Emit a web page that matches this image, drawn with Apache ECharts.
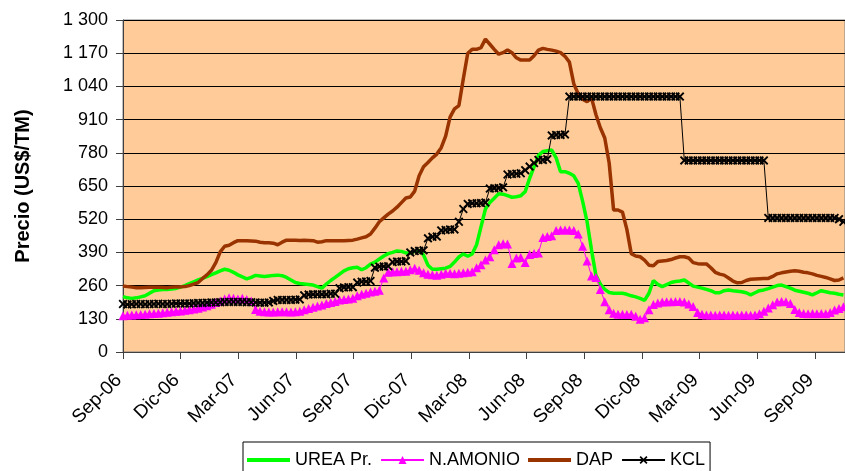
<!DOCTYPE html>
<html>
<head>
<meta charset="utf-8">
<script src="https://cdn.jsdelivr.net/npm/echarts@6/dist/echarts.min.js"></script>
<style>
  html, body { margin: 0; padding: 0; background: #ffffff; }
  #chart { width: 845px; height: 471px; }
</style>
</head>
<body>
<div id="chart"></div>
<script>
// Weekly fertilizer prices (US$/TM), first week of Sep 2006 onward
const seriesNames = ['UREA Pr.', 'N.AMONIO', 'DAP', 'KCL'];

const ureaPr = [
  217,212,210,212,216,220,230,240,243,245,
  245,247,249,254,260,268,275,282,288,295,
  303,310,318,324,320,312,302,294,286,292,
  300,298,296,298,300,301,299,292,282,272,
  268,266,264,262,256,250,266,280,292,305,
  318,326,330,332,322,330,344,352,364,376,
  385,390,396,394,388,388,394,398,380,340,
  324,324,326,328,335,352,372,384,375,384,
  420,490,560,585,602,620,618,612,606,608,
  612,628,680,725,770,785,788,791,760,706,
  706,700,690,660,590,510,400,300,266,245,
  233,230,230,230,226,220,216,210,202,230,
  280,265,256,264,272,276,278,282,270,258,
  254,250,245,240,232,232,240,243,240,238,
  236,232,224,232,240,243,248,254,260,262,
  256,250,242,238,234,230,224,232,240,236,
  232,230,226,223
];

const nAmonio = [
  142,144,145,146,147,148,150,151,152,154,
  156,158,160,161,163,165,168,171,176,181,
  187,194,200,208,212,210,208,210,206,200,
  166,160,158,157,157,158,158,158,157,158,
  160,165,170,175,180,184,190,194,198,204,
  206,208,210,220,226,230,235,238,242,290,
  312,314,314,316,316,322,328,320,310,304,
  302,301,304,308,308,306,308,310,312,314,
  330,342,360,373,400,420,424,423,347,368,
  370,350,382,386,388,448,452,455,476,478,
  478,478,476,462,414,356,298,292,245,197,
  165,152,148,148,147,148,140,128,134,165,
  186,192,196,197,197,198,198,196,188,178,
  155,148,145,145,144,145,145,144,145,144,
  145,145,144,145,150,160,172,185,196,198,
  197,190,166,155,151,150,151,150,151,150,
  155,164,170,177
];

const dap = [
  258,256,254,252,252,253,254,254,254,253,
  252,254,255,255,256,260,266,272,288,302,
  320,350,392,414,418,428,436,436,436,435,
  434,430,428,428,426,420,430,438,438,438,
  437,438,437,436,430,432,436,436,436,436,
  436,437,438,442,447,451,462,485,510,525,
  540,552,567,585,603,607,630,690,725,742,
  760,775,800,845,920,952,965,1070,1170,1185,
  1185,1192,1225,1205,1185,1166,1172,1183,1172,1152,
  1143,1143,1143,1160,1182,1189,1185,1182,1178,1172,
  1158,1135,1050,1010,990,980,995,930,878,838,
  740,556,556,548,480,385,376,373,360,340,
  338,354,356,358,362,368,373,373,368,350,
  346,345,345,330,312,305,301,290,278,271,
  272,280,285,286,287,288,288,296,306,310,
  313,316,318,316,312,310,306,300,296,292,
  286,280,282,290
];

const kcl = [
  188,186,187,188,188,187,188,188,189,188,
  188,189,190,190,190,190,191,192,192,193,
  194,194,195,196,196,196,196,196,195,195,
  194,193,193,194,200,204,204,204,204,205,
  206,222,225,226,226,226,226,228,228,250,
  253,254,254,272,275,276,278,330,334,335,
  336,352,354,354,356,390,395,396,398,445,
  451,452,476,478,480,480,510,560,580,582,
  582,583,585,640,641,642,645,695,697,698,
  700,712,726,740,752,752,755,848,850,850,
  852,1000,1000,1000,1000,1000,1000,1000,1000,1000,
  1000,1000,1000,1000,1000,1000,1000,1000,1000,1000,
  1000,1000,1000,1000,1000,1000,1000,750,750,750,
  750,750,750,750,750,750,750,750,750,750,
  750,750,750,750,750,750,525,525,525,525,
  525,525,525,525,525,525,525,525,525,525,
  525,525,520,510
];

// Quarterly labels on the date axis (Sep 2006 .. Sep 2009)
const tickLabels = [
  'Sep-06', 'Dic-06', 'Mar-07', 'Jun-07', 'Sep-07', 'Dic-07',
  'Mar-08', 'Jun-08', 'Sep-08', 'Dic-08', 'Mar-09', 'Jun-09', 'Sep-09'
];

// x is counted in days from 1 Sep 2006; a quarter averages 1096/12 days
const QUARTER = 1096 / 12;
const AXIS_END_DAY = 1143.5;
const weekDay = ureaPr.map((_, i) => i * 7);

function pairs(values) {
  return values.map((v, i) => [weekDay[i], v]);
}

const FONT = '"Liberation Sans", Arial, sans-serif';
const crossPath = 'path://M0,1.5L1.5,0L5,3.5L8.5,0L10,1.5L6.5,5L10,8.5L8.5,10L5,6.5L1.5,10L0,8.5L3.5,5Z';
const barIcon = 'path://M0,0L43,0L43,4L0,4Z';

const chart = echarts.init(document.getElementById('chart'), null, { renderer: 'canvas' });

chart.setOption({
  animation: false,
  backgroundColor: '#ffffff',
  textStyle: { fontFamily: FONT },
  grid: {
    left: 123, top: 20, right: 0, bottom: 119,
    show: true,
    backgroundColor: '#FFCC99',
    borderColor: '#808080',
    borderWidth: 1
  },
  legend: {
    left: 243, top: 442,
    padding: [9, 5, 22, 4],
    itemGap: 8,
    itemWidth: 43,
    itemHeight: 10,
    backgroundColor: '#ffffff',
    borderColor: '#000000',
    borderWidth: 1,
    borderRadius: 0,
    textStyle: { fontSize: 18, color: '#000000', fontFamily: FONT },
    data: [
      { name: seriesNames[0], icon: barIcon },
      { name: seriesNames[1] },
      { name: seriesNames[2], icon: barIcon },
      { name: seriesNames[3] }
    ]
  },
  xAxis: {
    type: 'value',
    min: 0,
    max: AXIS_END_DAY,
    interval: QUARTER,
    axisLine: { show: true, onZero: false, lineStyle: { color: '#404040', width: 1 } },
    axisTick: { show: true, length: 7, lineStyle: { color: '#404040' } },
    axisLabel: {
      rotate: 45,
      margin: 21,
      padding: [0, 6, 0, 0],
      fontSize: 19,
      color: '#000000',
      fontFamily: FONT,
      showMaxLabel: false,
      formatter: function (v) {
        const k = Math.round(v / QUARTER);
        return (Math.abs(v - k * QUARTER) < 1 && tickLabels[k]) ? tickLabels[k] : '';
      }
    },
    splitLine: { show: false }
  },
  yAxis: {
    type: 'value',
    min: 0, max: 1300, interval: 130,
    name: 'Precio (US$/TM)',
    nameLocation: 'middle',
    nameGap: 90,
    nameTextStyle: { fontSize: 20, fontWeight: 'bold', color: '#000000', fontFamily: FONT },
    axisLine: { show: true, lineStyle: { color: '#404040', width: 1 } },
    axisTick: { show: true, length: 7, lineStyle: { color: '#404040' } },
    axisLabel: {
      margin: 15,
      fontSize: 18,
      color: '#000000',
      fontFamily: FONT,
      formatter: function (v) {
        return String(v).replace(/\B(?=(\d{3})+(?!\d))/g, ' ');
      }
    },
    splitLine: { show: true, lineStyle: { color: '#000000', width: 1 } }
  },
  series: [
    {
      name: 'UREA Pr.', type: 'line', data: pairs(ureaPr),
      symbol: 'none', color: '#00FF00',
      lineStyle: { color: '#00FF00', width: 3.5 }
    },
    {
      name: 'N.AMONIO', type: 'line', data: pairs(nAmonio),
      symbol: 'triangle', symbolSize: 9, showSymbol: true, color: '#FF00FF',
      itemStyle: { color: '#FF00FF' },
      lineStyle: { color: '#FF00FF', width: 1 }
    },
    {
      name: 'DAP', type: 'line', data: pairs(dap),
      symbol: 'none', color: '#993300',
      lineStyle: { color: '#993300', width: 3.5 }
    },
    {
      name: 'KCL', type: 'line', data: pairs(kcl),
      symbol: crossPath, symbolSize: 9, showSymbol: true, color: '#000000',
      itemStyle: { color: '#000000' },
      lineStyle: { color: '#000000', width: 1 }
    }
  ]
});
</script>
</body>
</html>
